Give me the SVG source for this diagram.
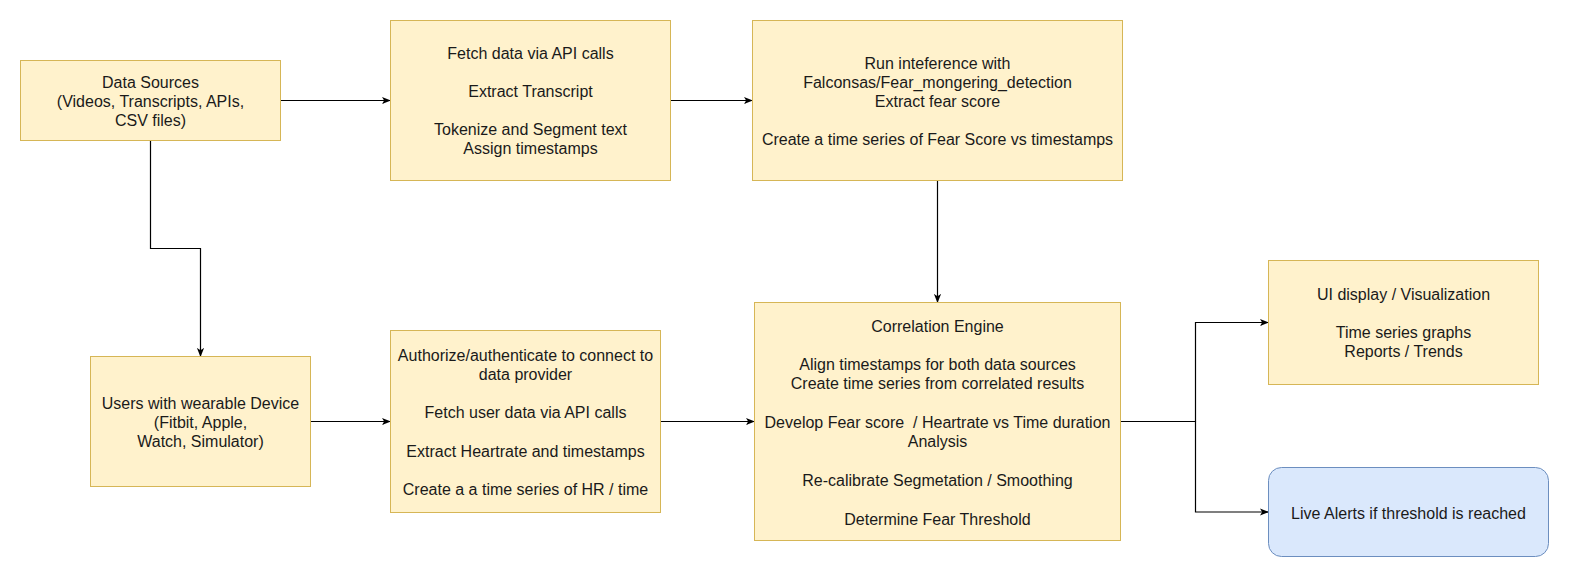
<svg xmlns="http://www.w3.org/2000/svg" width="1571" height="578" viewBox="0 0 1571 578">
<style>
.box{fill:#fff2cc;stroke:#d6b656;stroke-width:1}
.blue{fill:#dae8fc;stroke:#6c8ebf;stroke-width:1}
text{font-family:"Liberation Sans",Arial,Helvetica,sans-serif;font-size:16px;fill:#1a1a1a;text-anchor:middle;white-space:pre}
.edge{fill:none;stroke:#000;stroke-width:1.2}
</style>
<defs>
<marker id="arr" viewBox="0 0 10 10" refX="9" refY="5" markerWidth="9" markerHeight="9" markerUnits="userSpaceOnUse" orient="auto">
<path d="M0,1 L10,5 L0,9 L2.5,5 Z" fill="#000"/>
</marker>
</defs>
<rect width="1571" height="578" fill="#fff"/>
<g id="connectors">
<path class="edge" d="M280,100.5 H390" marker-end="url(#arr)"/>
<path class="edge" d="M670,100.5 H752" marker-end="url(#arr)"/>
<path class="edge" d="M937.5,180 V302" marker-end="url(#arr)"/>
<path class="edge" d="M150.5,140 V248.5 H200.5 V356" marker-end="url(#arr)"/>
<path class="edge" d="M310,421.5 H390" marker-end="url(#arr)"/>
<path class="edge" d="M660,421.5 H754" marker-end="url(#arr)"/>
<path class="edge" d="M1120,421.5 H1195.5 V322.5 H1268" marker-end="url(#arr)"/>
<path class="edge" d="M1195.5,421.5 V512 H1268" marker-end="url(#arr)"/>
</g>
<g id="node-data-sources">
<rect class="box" x="20.5" y="60.5" width="260" height="80"/>
<text x="150.5" y="88">Data Sources</text>
<text x="150.5" y="107">(Videos, Transcripts, APIs,</text>
<text x="150.5" y="126">CSV files)</text>
</g>
<g id="node-fetch">
<rect class="box" x="390.5" y="20.5" width="280" height="160"/>
<text x="530.5" y="59">Fetch data via API calls</text>
<text x="530.5" y="97">Extract Transcript</text>
<text x="530.5" y="135">Tokenize and Segment text</text>
<text x="530.5" y="154">Assign timestamps</text>
</g>
<g id="node-inference">
<rect class="box" x="752.5" y="20.5" width="370" height="160"/>
<text x="937.5" y="69">Run inteference with</text>
<text x="937.5" y="88">Falconsas/Fear_mongering_detection</text>
<text x="937.5" y="107">Extract fear score</text>
<text x="937.5" y="145">Create a time series of Fear Score vs timestamps</text>
</g>
<g id="node-users">
<rect class="box" x="90.5" y="356.5" width="220" height="130"/>
<text x="200.5" y="409">Users with wearable Device</text>
<text x="200.5" y="428">(Fitbit, Apple,</text>
<text x="200.5" y="447">Watch, Simulator)</text>
</g>
<g id="node-auth">
<rect class="box" x="390.5" y="330.5" width="270" height="182"/>
<text x="525.5" y="361">Authorize/authenticate to connect to</text>
<text x="525.5" y="380">data provider</text>
<text x="525.5" y="418">Fetch user data via API calls</text>
<text x="525.5" y="457">Extract Heartrate and timestamps</text>
<text x="525.5" y="495">Create a a time series of HR / time</text>
</g>
<g id="node-correlation">
<rect class="box" x="754.5" y="302.5" width="366" height="238"/>
<text x="937.5" y="331.5">Correlation Engine</text>
<text x="937.5" y="370">Align timestamps for both data sources</text>
<text x="937.5" y="389">Create time series from correlated results</text>
<text x="937.5" y="428" xml:space="preserve">Develop Fear score  / Heartrate vs Time duration</text>
<text x="937.5" y="447">Analysis</text>
<text x="937.5" y="486">Re-calibrate Segmetation / Smoothing</text>
<text x="937.5" y="524.5">Determine Fear Threshold</text>
</g>
<g id="node-ui">
<rect class="box" x="1268.5" y="260.5" width="270" height="124"/>
<text x="1403.5" y="300">UI display / Visualization</text>
<text x="1403.5" y="338">Time series graphs</text>
<text x="1403.5" y="357">Reports / Trends</text>
</g>
<g id="node-alerts">
<rect class="blue" x="1268.5" y="467.5" width="280" height="89" rx="13" ry="13"/>
<text x="1408.5" y="519">Live Alerts if threshold is reached</text>
</g>
</svg>
